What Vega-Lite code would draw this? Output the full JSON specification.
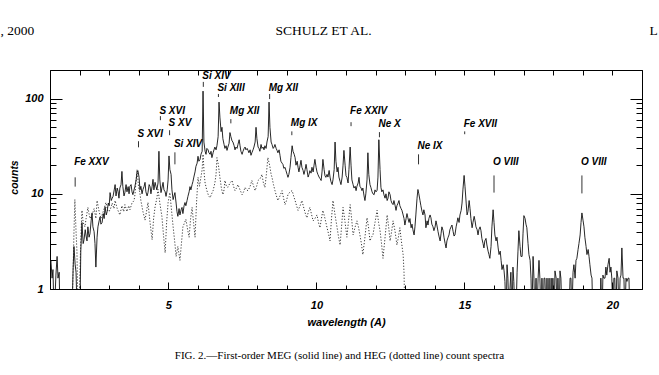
{
 "$schema": "https://vega.github.io/schema/vega-lite/v6.json",
 "width": 592,
 "height": 219,
 "autosize": {"type": "none"},
 "padding": {"left": 50, "top": 70, "right": 17, "bottom": 86},
 "background": "white",
 "config": {
  "view": {"stroke": "#000", "strokeWidth": 1},
  "axis": {"grid": false, "domain": false, "tickColor": "#000", "tickWidth": 1, "labelColor": "#000", "titleColor": "#000",
   "labelFont": "Liberation Sans", "labelFontStyle": "italic", "labelFontWeight": "bold", "labelFontSize": 11,
   "titleFont": "Liberation Sans", "titleFontStyle": "italic", "titleFontWeight": "bold", "titleFontSize": 11}
 },
 "datasets": {
  "meg": [
   {"wl":1.00,"counts":1.8},{"wl":1.03,"counts":2.0},{"wl":1.07,"counts":1.3},{"wl":1.10,"counts":1.6},{"wl":1.14,"counts":0.5},{"wl":1.20,"counts":1.4},{"wl":1.24,"counts":2.2},{"wl":1.27,"counts":1.3},{"wl":1.31,"counts":1.5},{"wl":1.34,"counts":0.5},
   {"wl":1.74,"counts":0.5},{"wl":1.78,"counts":1.6},{"wl":1.81,"counts":2.8},{"wl":1.85,"counts":1.8},{"wl":1.88,"counts":1.5},{"wl":1.92,"counts":0.5},{"wl":2.01,"counts":0.5},{"wl":2.04,"counts":2.5},{"wl":2.08,"counts":5.0},{"wl":2.12,"counts":3.0},{"wl":2.15,"counts":3.3},{"wl":2.19,"counts":4.2},{"wl":2.22,"counts":3.6},{"wl":2.25,"counts":3.2},{"wl":2.28,"counts":4.5},{"wl":2.32,"counts":3.5},{"wl":2.35,"counts":3.8},{"wl":2.39,"counts":5.2},{"wl":2.42,"counts":6.3},{"wl":2.45,"counts":4.5},{"wl":2.49,"counts":4.0},{"wl":2.52,"counts":3.0},{"wl":2.55,"counts":1.7},{"wl":2.59,"counts":3.5},{"wl":2.62,"counts":4.5},{"wl":2.66,"counts":5.2},{"wl":2.69,"counts":5.7},{"wl":2.72,"counts":4.8},{"wl":2.76,"counts":5.0},{"wl":2.80,"counts":6.2},{"wl":2.83,"counts":5.5},{"wl":2.86,"counts":7.3},{"wl":2.90,"counts":6.0},{"wl":2.93,"counts":6.5},{"wl":2.97,"counts":8.0},{"wl":3.00,"counts":7.5},{"wl":3.03,"counts":10.3},{"wl":3.07,"counts":8.5},{"wl":3.10,"counts":9.0},{"wl":3.13,"counts":9.4},{"wl":3.17,"counts":11.0},{"wl":3.20,"counts":12.5},{"wl":3.23,"counts":9.5},{"wl":3.27,"counts":11.5},{"wl":3.30,"counts":10.6},{"wl":3.33,"counts":9.0},{"wl":3.36,"counts":11.5},{"wl":3.40,"counts":12.5},{"wl":3.43,"counts":17.2},{"wl":3.46,"counts":12.0},{"wl":3.50,"counts":9.5},{"wl":3.53,"counts":10.3},{"wl":3.57,"counts":12.5},{"wl":3.60,"counts":10.5},{"wl":3.64,"counts":11.9},{"wl":3.67,"counts":10.0},{"wl":3.70,"counts":12.0},{"wl":3.74,"counts":12.5},{"wl":3.77,"counts":10.5},{"wl":3.80,"counts":9.8},{"wl":3.84,"counts":11.0},{"wl":3.87,"counts":12.0},{"wl":3.91,"counts":14.0},{"wl":3.94,"counts":16.8},{"wl":3.97,"counts":17.5},{"wl":4.01,"counts":14.9},{"wl":4.04,"counts":11.0},{"wl":4.07,"counts":12.0},{"wl":4.11,"counts":10.0},{"wl":4.14,"counts":11.1},{"wl":4.18,"counts":12.0},{"wl":4.21,"counts":13.2},{"wl":4.24,"counts":10.5},{"wl":4.28,"counts":9.5},{"wl":4.31,"counts":10.3},{"wl":4.35,"counts":12.5},{"wl":4.38,"counts":11.9},{"wl":4.41,"counts":10.0},{"wl":4.45,"counts":12.0},{"wl":4.48,"counts":14.2},{"wl":4.51,"counts":11.0},{"wl":4.55,"counts":13.2},{"wl":4.58,"counts":12.0},{"wl":4.61,"counts":11.0},{"wl":4.65,"counts":13.0},{"wl":4.68,"counts":28.0},{"wl":4.71,"counts":14.0},{"wl":4.75,"counts":10.3},{"wl":4.78,"counts":11.5},{"wl":4.82,"counts":13.2},{"wl":4.85,"counts":11.0},{"wl":4.89,"counts":10.5},{"wl":4.92,"counts":9.4},{"wl":4.96,"counts":11.0},{"wl":4.99,"counts":14.0},{"wl":5.02,"counts":25.0},{"wl":5.05,"counts":18.0},{"wl":5.09,"counts":16.0},{"wl":5.12,"counts":11.0},{"wl":5.16,"counts":8.7},{"wl":5.19,"counts":9.5},{"wl":5.22,"counts":10.3},{"wl":5.26,"counts":8.0},{"wl":5.29,"counts":6.5},{"wl":5.32,"counts":5.8},{"wl":5.36,"counts":7.0},{"wl":5.39,"counts":6.0},{"wl":5.43,"counts":6.8},{"wl":5.46,"counts":7.2},{"wl":5.49,"counts":6.2},{"wl":5.53,"counts":7.5},{"wl":5.56,"counts":8.1},{"wl":5.59,"counts":7.5},{"wl":5.63,"counts":8.5},{"wl":5.66,"counts":9.4},{"wl":5.70,"counts":10.5},{"wl":5.73,"counts":11.9},{"wl":5.76,"counts":11.0},{"wl":5.80,"counts":12.5},{"wl":5.83,"counts":13.5},{"wl":5.86,"counts":15.0},{"wl":5.90,"counts":17.0},{"wl":5.93,"counts":19.4},{"wl":5.97,"counts":21.0},{"wl":6.00,"counts":24.8},{"wl":6.03,"counts":22.0},{"wl":6.07,"counts":23.0},{"wl":6.10,"counts":26.0},{"wl":6.14,"counts":28.0},{"wl":6.17,"counts":120},{"wl":6.20,"counts":35.0},{"wl":6.24,"counts":28.0},{"wl":6.27,"counts":26.0},{"wl":6.30,"counts":30.0},{"wl":6.34,"counts":29.0},{"wl":6.37,"counts":27.0},{"wl":6.41,"counts":26.0},{"wl":6.44,"counts":28.0},{"wl":6.47,"counts":24.0},{"wl":6.51,"counts":27.0},{"wl":6.54,"counts":29.0},{"wl":6.57,"counts":31.0},{"wl":6.61,"counts":29.0},{"wl":6.64,"counts":32.0},{"wl":6.68,"counts":40.0},{"wl":6.71,"counts":92.0},{"wl":6.74,"counts":64.0},{"wl":6.78,"counts":45.0},{"wl":6.81,"counts":50.0},{"wl":6.84,"counts":38.0},{"wl":6.88,"counts":33.0},{"wl":6.91,"counts":30.0},{"wl":6.95,"counts":32.0},{"wl":6.98,"counts":28.6},{"wl":7.01,"counts":31.0},{"wl":7.05,"counts":34.0},{"wl":7.08,"counts":44.0},{"wl":7.11,"counts":40.0},{"wl":7.15,"counts":36.0},{"wl":7.18,"counts":35.0},{"wl":7.22,"counts":32.0},{"wl":7.25,"counts":29.0},{"wl":7.28,"counts":31.0},{"wl":7.32,"counts":30.0},{"wl":7.35,"counts":33.0},{"wl":7.39,"counts":37.0},{"wl":7.42,"counts":32.0},{"wl":7.45,"counts":28.0},{"wl":7.49,"counts":26.0},{"wl":7.52,"counts":28.0},{"wl":7.56,"counts":30.0},{"wl":7.59,"counts":31.0},{"wl":7.62,"counts":29.0},{"wl":7.66,"counts":30.0},{"wl":7.69,"counts":28.6},{"wl":7.72,"counts":27.0},{"wl":7.76,"counts":29.0},{"wl":7.79,"counts":25.4},{"wl":7.82,"counts":27.0},{"wl":7.86,"counts":29.0},{"wl":7.89,"counts":31.0},{"wl":7.93,"counts":35.0},{"wl":7.96,"counts":50.0},{"wl":7.99,"counts":38.0},{"wl":8.03,"counts":31.0},{"wl":8.06,"counts":30.0},{"wl":8.09,"counts":28.0},{"wl":8.13,"counts":33.0},{"wl":8.16,"counts":30.0},{"wl":8.20,"counts":31.0},{"wl":8.23,"counts":29.0},{"wl":8.26,"counts":32.0},{"wl":8.30,"counts":30.0},{"wl":8.33,"counts":35.0},{"wl":8.37,"counts":40.0},{"wl":8.40,"counts":92.0},{"wl":8.43,"counts":50.0},{"wl":8.47,"counts":35.0},{"wl":8.50,"counts":33.0},{"wl":8.54,"counts":30.0},{"wl":8.57,"counts":31.0},{"wl":8.60,"counts":33.0},{"wl":8.64,"counts":30.0},{"wl":8.67,"counts":28.6},{"wl":8.70,"counts":27.0},{"wl":8.74,"counts":29.0},{"wl":8.77,"counts":25.4},{"wl":8.80,"counts":22.0},{"wl":8.84,"counts":21.0},{"wl":8.87,"counts":20.4},{"wl":8.90,"counts":18.5},{"wl":8.94,"counts":19.0},{"wl":8.97,"counts":17.6},{"wl":9.01,"counts":16.0},{"wl":9.04,"counts":14.9},{"wl":9.07,"counts":16.0},{"wl":9.11,"counts":19.0},{"wl":9.14,"counts":24.0},{"wl":9.18,"counts":32.0},{"wl":9.21,"counts":28.0},{"wl":9.25,"counts":26.0},{"wl":9.28,"counts":24.0},{"wl":9.31,"counts":20.0},{"wl":9.35,"counts":22.0},{"wl":9.38,"counts":19.0},{"wl":9.41,"counts":17.0},{"wl":9.45,"counts":20.0},{"wl":9.48,"counts":22.5},{"wl":9.51,"counts":19.0},{"wl":9.55,"counts":17.6},{"wl":9.58,"counts":16.0},{"wl":9.62,"counts":18.0},{"wl":9.65,"counts":20.4},{"wl":9.68,"counts":18.0},{"wl":9.72,"counts":15.0},{"wl":9.75,"counts":16.0},{"wl":9.78,"counts":17.5},{"wl":9.82,"counts":16.5},{"wl":9.85,"counts":19.0},{"wl":9.89,"counts":17.0},{"wl":9.92,"counts":20.0},{"wl":9.95,"counts":23.0},{"wl":9.99,"counts":19.0},{"wl":10.02,"counts":17.0},{"wl":10.05,"counts":16.0},{"wl":10.09,"counts":15.0},{"wl":10.12,"counts":14.5},{"wl":10.16,"counts":13.8},{"wl":10.19,"counts":17.0},{"wl":10.22,"counts":23.0},{"wl":10.26,"counts":18.0},{"wl":10.29,"counts":15.5},{"wl":10.32,"counts":14.9},{"wl":10.36,"counts":16.0},{"wl":10.39,"counts":15.0},{"wl":10.43,"counts":17.6},{"wl":10.46,"counts":15.0},{"wl":10.49,"counts":13.5},{"wl":10.53,"counts":12.5},{"wl":10.56,"counts":14.0},{"wl":10.60,"counts":18.0},{"wl":10.63,"counts":35.0},{"wl":10.66,"counts":22.0},{"wl":10.70,"counts":17.0},{"wl":10.73,"counts":19.0},{"wl":10.76,"counts":15.0},{"wl":10.80,"counts":13.5},{"wl":10.83,"counts":12.5},{"wl":10.87,"counts":15.0},{"wl":10.90,"counts":20.0},{"wl":10.93,"counts":28.6},{"wl":10.97,"counts":20.0},{"wl":11.00,"counts":15.5},{"wl":11.03,"counts":14.9},{"wl":11.07,"counts":13.0},{"wl":11.10,"counts":18.0},{"wl":11.14,"counts":31.0},{"wl":11.17,"counts":20.0},{"wl":11.20,"counts":14.0},{"wl":11.24,"counts":12.5},{"wl":11.27,"counts":11.5},{"wl":11.31,"counts":12.0},{"wl":11.34,"counts":10.8},{"wl":11.37,"counts":12.0},{"wl":11.41,"counts":13.0},{"wl":11.44,"counts":14.9},{"wl":11.47,"counts":12.0},{"wl":11.51,"counts":11.5},{"wl":11.54,"counts":10.8},{"wl":11.57,"counts":11.5},{"wl":11.61,"counts":9.5},{"wl":11.64,"counts":8.5},{"wl":11.67,"counts":10.0},{"wl":11.71,"counts":14.0},{"wl":11.74,"counts":27.0},{"wl":11.77,"counts":16.0},{"wl":11.81,"counts":12.5},{"wl":11.84,"counts":11.7},{"wl":11.88,"counts":10.5},{"wl":11.91,"counts":10.0},{"wl":11.95,"counts":9.8},{"wl":11.98,"counts":11.0},{"wl":12.01,"counts":10.5},{"wl":12.05,"counts":10.8},{"wl":12.08,"counts":15.0},{"wl":12.11,"counts":37.0},{"wl":12.15,"counts":18.0},{"wl":12.18,"counts":11.7},{"wl":12.21,"counts":10.5},{"wl":12.25,"counts":11.0},{"wl":12.28,"counts":9.8},{"wl":12.32,"counts":9.0},{"wl":12.35,"counts":10.0},{"wl":12.39,"counts":8.5},{"wl":12.42,"counts":9.0},{"wl":12.45,"counts":10.5},{"wl":12.49,"counts":9.8},{"wl":12.52,"counts":8.5},{"wl":12.55,"counts":8.0},{"wl":12.59,"counts":7.7},{"wl":12.62,"counts":8.5},{"wl":12.66,"counts":7.5},{"wl":12.69,"counts":6.7},{"wl":12.72,"counts":7.5},{"wl":12.76,"counts":8.0},{"wl":12.79,"counts":8.5},{"wl":12.82,"counts":7.5},{"wl":12.86,"counts":7.0},{"wl":12.89,"counts":6.7},{"wl":12.93,"counts":6.0},{"wl":12.96,"counts":5.5},{"wl":12.99,"counts":4.7},{"wl":13.03,"counts":5.5},{"wl":13.06,"counts":6.2},{"wl":13.09,"counts":5.6},{"wl":13.13,"counts":5.0},{"wl":13.16,"counts":5.5},{"wl":13.20,"counts":4.4},{"wl":13.23,"counts":4.8},{"wl":13.26,"counts":4.2},{"wl":13.30,"counts":3.7},{"wl":13.33,"counts":4.5},{"wl":13.36,"counts":6.0},{"wl":13.40,"counts":9.0},{"wl":13.43,"counts":11.1},{"wl":13.46,"counts":10.0},{"wl":13.50,"counts":8.5},{"wl":13.53,"counts":7.5},{"wl":13.57,"counts":6.5},{"wl":13.60,"counts":6.0},{"wl":13.63,"counts":6.8},{"wl":13.67,"counts":6.0},{"wl":13.70,"counts":4.4},{"wl":13.74,"counts":5.2},{"wl":13.77,"counts":4.7},{"wl":13.80,"counts":5.5},{"wl":13.84,"counts":6.0},{"wl":13.87,"counts":5.6},{"wl":13.90,"counts":4.8},{"wl":13.94,"counts":4.5},{"wl":13.97,"counts":4.1},{"wl":14.01,"counts":4.5},{"wl":14.04,"counts":5.2},{"wl":14.07,"counts":4.7},{"wl":14.11,"counts":4.0},{"wl":14.14,"counts":3.6},{"wl":14.18,"counts":3.2},{"wl":14.21,"counts":3.8},{"wl":14.24,"counts":4.5},{"wl":14.28,"counts":4.1},{"wl":14.31,"counts":3.5},{"wl":14.35,"counts":3.0},{"wl":14.38,"counts":2.7},{"wl":14.41,"counts":3.2},{"wl":14.45,"counts":3.5},{"wl":14.48,"counts":3.7},{"wl":14.51,"counts":4.2},{"wl":14.55,"counts":4.5},{"wl":14.58,"counts":4.7},{"wl":14.62,"counts":4.0},{"wl":14.65,"counts":3.6},{"wl":14.68,"counts":3.7},{"wl":14.72,"counts":4.5},{"wl":14.75,"counts":5.0},{"wl":14.78,"counts":5.6},{"wl":14.82,"counts":5.0},{"wl":14.85,"counts":6.0},{"wl":14.89,"counts":6.7},{"wl":14.92,"counts":8.0},{"wl":14.95,"counts":11.0},{"wl":14.99,"counts":15.6},{"wl":15.02,"counts":12.0},{"wl":15.06,"counts":8.0},{"wl":15.09,"counts":6.0},{"wl":15.12,"counts":6.5},{"wl":15.16,"counts":8.5},{"wl":15.19,"counts":7.0},{"wl":15.22,"counts":5.5},{"wl":15.26,"counts":4.4},{"wl":15.29,"counts":5.0},{"wl":15.33,"counts":5.8},{"wl":15.36,"counts":5.2},{"wl":15.39,"counts":4.5},{"wl":15.43,"counts":4.2},{"wl":15.46,"counts":3.7},{"wl":15.49,"counts":4.2},{"wl":15.53,"counts":4.5},{"wl":15.56,"counts":4.1},{"wl":15.59,"counts":3.4},{"wl":15.63,"counts":3.0},{"wl":15.66,"counts":2.7},{"wl":15.69,"counts":3.2},{"wl":15.73,"counts":3.4},{"wl":15.76,"counts":2.9},{"wl":15.80,"counts":2.5},{"wl":15.83,"counts":2.3},{"wl":15.86,"counts":2.1},{"wl":15.90,"counts":2.8},{"wl":15.93,"counts":4.5},{"wl":15.97,"counts":6.8},{"wl":16.00,"counts":5.0},{"wl":16.03,"counts":3.7},{"wl":16.07,"counts":3.2},{"wl":16.10,"counts":3.5},{"wl":16.14,"counts":2.7},{"wl":16.17,"counts":2.3},{"wl":16.21,"counts":2.5},{"wl":16.24,"counts":2.0},{"wl":16.27,"counts":1.6},{"wl":16.31,"counts":1.8},{"wl":16.34,"counts":1.55},{"wl":16.37,"counts":1.2},{"wl":16.41,"counts":0.5},{"wl":16.44,"counts":1.8},{"wl":16.47,"counts":1.3},{"wl":16.51,"counts":0.5},{"wl":16.54,"counts":1.0},{"wl":16.57,"counts":1.5},{"wl":16.61,"counts":0.5},{"wl":16.64,"counts":1.7},{"wl":16.67,"counts":1.2},{"wl":16.71,"counts":0.5},{"wl":16.74,"counts":0.5},{"wl":16.78,"counts":1.5},{"wl":16.81,"counts":2.5},{"wl":16.84,"counts":4.1},{"wl":16.88,"counts":2.8},{"wl":16.91,"counts":2.2},{"wl":16.95,"counts":2.2},{"wl":16.98,"counts":3.8},{"wl":17.01,"counts":5.9},{"wl":17.05,"counts":5.5},{"wl":17.08,"counts":4.8},{"wl":17.11,"counts":4.4},{"wl":17.15,"counts":3.0},{"wl":17.18,"counts":2.3},{"wl":17.22,"counts":2.0},{"wl":17.25,"counts":1.3},{"wl":17.28,"counts":0.5},{"wl":17.32,"counts":2.2},{"wl":17.35,"counts":1.3},{"wl":17.38,"counts":0.5},{"wl":17.42,"counts":1.3},{"wl":17.45,"counts":0.5},{"wl":17.49,"counts":1.3},{"wl":17.52,"counts":2.0},{"wl":17.55,"counts":1.3},{"wl":17.59,"counts":0.5},{"wl":17.62,"counts":1.3},{"wl":17.66,"counts":0.5},{"wl":17.69,"counts":1.3},{"wl":17.72,"counts":1.3},{"wl":17.76,"counts":0.5},{"wl":17.79,"counts":1.3},{"wl":17.82,"counts":0.5},{"wl":17.86,"counts":1.3},{"wl":17.89,"counts":0.5},{"wl":17.93,"counts":1.3},{"wl":17.96,"counts":0.5},{"wl":17.99,"counts":1.3},{"wl":18.03,"counts":0.5},{"wl":18.06,"counts":1.55},{"wl":18.10,"counts":1.3},{"wl":18.13,"counts":0.5},{"wl":18.16,"counts":1.3},{"wl":18.20,"counts":0.5},{"wl":18.23,"counts":1.55},{"wl":18.26,"counts":1.3},{"wl":18.30,"counts":0.5},
   {"wl":18.53,"counts":0.5},{"wl":18.57,"counts":1.3},{"wl":18.60,"counts":1.3},{"wl":18.63,"counts":0.5},{"wl":18.67,"counts":1.5},{"wl":18.70,"counts":1.8},{"wl":18.74,"counts":1.3},{"wl":18.77,"counts":2.0},{"wl":18.80,"counts":2.1},{"wl":18.84,"counts":2.6},{"wl":18.87,"counts":3.0},{"wl":18.91,"counts":3.7},{"wl":18.94,"counts":5.0},{"wl":18.97,"counts":6.3},{"wl":19.01,"counts":5.2},{"wl":19.04,"counts":4.5},{"wl":19.07,"counts":3.5},{"wl":19.11,"counts":2.8},{"wl":19.14,"counts":2.3},{"wl":19.18,"counts":2.6},{"wl":19.21,"counts":2.2},{"wl":19.24,"counts":1.8},{"wl":19.28,"counts":1.4},{"wl":19.31,"counts":1.3},{"wl":19.34,"counts":0.5},
   {"wl":19.58,"counts":0.5},{"wl":19.61,"counts":1.3},{"wl":19.65,"counts":0.5},{"wl":19.68,"counts":1.4},{"wl":19.71,"counts":1.3},{"wl":19.75,"counts":1.3},{"wl":19.78,"counts":1.7},{"wl":19.81,"counts":1.4},{"wl":19.85,"counts":1.8},{"wl":19.89,"counts":2.1},{"wl":19.92,"counts":1.5},{"wl":19.95,"counts":1.7},{"wl":19.98,"counts":1.3},{"wl":20.02,"counts":0.5},{"wl":20.05,"counts":1.3},{"wl":20.08,"counts":1.3},{"wl":20.12,"counts":0.5},{"wl":20.15,"counts":1.55},{"wl":20.19,"counts":1.3},{"wl":20.22,"counts":0.5},{"wl":20.26,"counts":1.3},{"wl":20.29,"counts":1.4},{"wl":20.32,"counts":2.7},{"wl":20.36,"counts":1.3},{"wl":20.39,"counts":1.3},{"wl":20.42,"counts":0.5},{"wl":20.46,"counts":1.3},{"wl":20.49,"counts":1.2},{"wl":20.53,"counts":1.3},{"wl":20.56,"counts":1.3},{"wl":20.59,"counts":0.5}
  ],
  "heg": [
   {"wl":1.74,"counts":0.5},{"wl":1.78,"counts":1.5},{"wl":1.81,"counts":4.0},{"wl":1.84,"counts":8.7},{"wl":1.88,"counts":4.0},{"wl":1.91,"counts":2.5},{"wl":1.95,"counts":0.5},{"wl":1.98,"counts":0.5},{"wl":2.01,"counts":1.5},{"wl":2.05,"counts":4.0},{"wl":2.08,"counts":6.7},{"wl":2.12,"counts":5.0},{"wl":2.18,"counts":4.5},{"wl":2.22,"counts":5.5},{"wl":2.28,"counts":7.2},{"wl":2.35,"counts":5.5},{"wl":2.42,"counts":6.0},{"wl":2.49,"counts":7.0},{"wl":2.55,"counts":5.5},{"wl":2.59,"counts":8.5},{"wl":2.66,"counts":6.5},{"wl":2.72,"counts":5.5},{"wl":2.76,"counts":6.0},{"wl":2.83,"counts":7.0},{"wl":2.89,"counts":8.1},{"wl":2.96,"counts":6.5},{"wl":3.03,"counts":6.7},{"wl":3.10,"counts":8.0},{"wl":3.16,"counts":7.0},{"wl":3.20,"counts":8.5},{"wl":3.27,"counts":7.0},{"wl":3.36,"counts":6.0},{"wl":3.43,"counts":7.5},{"wl":3.49,"counts":6.5},{"wl":3.53,"counts":7.7},{"wl":3.60,"counts":6.5},{"wl":3.66,"counts":7.5},{"wl":3.70,"counts":6.8},{"wl":3.77,"counts":8.0},{"wl":3.84,"counts":8.5},{"wl":3.87,"counts":9.8},{"wl":3.94,"counts":18.0},{"wl":3.99,"counts":12.0},{"wl":4.04,"counts":10.0},{"wl":4.07,"counts":8.5},{"wl":4.14,"counts":6.5},{"wl":4.21,"counts":5.3},{"wl":4.26,"counts":6.5},{"wl":4.31,"counts":8.1},{"wl":4.38,"counts":5.0},{"wl":4.45,"counts":3.3},{"wl":4.50,"counts":5.5},{"wl":4.55,"counts":7.3},{"wl":4.61,"counts":9.0},{"wl":4.65,"counts":11.1},{"wl":4.71,"counts":8.0},{"wl":4.78,"counts":5.8},{"wl":4.84,"counts":3.5},{"wl":4.89,"counts":2.4},{"wl":4.94,"counts":5.0},{"wl":4.99,"counts":8.1},{"wl":5.05,"counts":10.3},{"wl":5.10,"counts":7.0},{"wl":5.16,"counts":4.5},{"wl":5.22,"counts":3.0},{"wl":5.26,"counts":2.2},{"wl":5.32,"counts":2.8},{"wl":5.39,"counts":2.0},{"wl":5.44,"counts":3.0},{"wl":5.49,"counts":4.5},{"wl":5.55,"counts":5.0},{"wl":5.59,"counts":5.4},{"wl":5.65,"counts":4.2},{"wl":5.70,"counts":3.5},{"wl":5.75,"counts":5.5},{"wl":5.80,"counts":7.2},{"wl":5.85,"counts":5.0},{"wl":5.90,"counts":3.5},{"wl":5.95,"counts":8.0},{"wl":6.00,"counts":14.9},{"wl":6.05,"counts":12.0},{"wl":6.10,"counts":15.0},{"wl":6.14,"counts":18.0},{"wl":6.17,"counts":26.0},{"wl":6.21,"counts":16.0},{"wl":6.24,"counts":13.0},{"wl":6.30,"counts":10.8},{"wl":6.36,"counts":9.5},{"wl":6.41,"counts":9.1},{"wl":6.46,"counts":10.0},{"wl":6.51,"counts":10.8},{"wl":6.57,"counts":13.0},{"wl":6.61,"counts":16.0},{"wl":6.64,"counts":24.0},{"wl":6.69,"counts":20.0},{"wl":6.74,"counts":14.9},{"wl":6.79,"counts":11.5},{"wl":6.84,"counts":9.8},{"wl":6.88,"counts":11.0},{"wl":6.91,"counts":13.8},{"wl":6.96,"counts":12.0},{"wl":7.01,"counts":11.7},{"wl":7.08,"counts":13.0},{"wl":7.15,"counts":13.8},{"wl":7.20,"counts":12.0},{"wl":7.25,"counts":10.8},{"wl":7.30,"counts":11.5},{"wl":7.35,"counts":12.5},{"wl":7.42,"counts":11.0},{"wl":7.49,"counts":9.8},{"wl":7.54,"counts":10.5},{"wl":7.59,"counts":11.7},{"wl":7.64,"counts":11.0},{"wl":7.69,"counts":10.8},{"wl":7.76,"counts":12.0},{"wl":7.82,"counts":13.8},{"wl":7.88,"counts":12.0},{"wl":7.93,"counts":10.8},{"wl":7.98,"counts":12.0},{"wl":8.03,"counts":13.8},{"wl":8.10,"counts":14.5},{"wl":8.16,"counts":16.0},{"wl":8.21,"counts":13.0},{"wl":8.26,"counts":11.7},{"wl":8.31,"counts":16.0},{"wl":8.36,"counts":24.0},{"wl":8.42,"counts":20.0},{"wl":8.47,"counts":16.0},{"wl":8.50,"counts":14.9},{"wl":8.55,"counts":12.5},{"wl":8.60,"counts":10.8},{"wl":8.65,"counts":9.5},{"wl":8.70,"counts":8.5},{"wl":8.77,"counts":9.5},{"wl":8.84,"counts":10.8},{"wl":8.89,"counts":9.0},{"wl":8.94,"counts":7.7},{"wl":8.99,"counts":8.5},{"wl":9.04,"counts":9.8},{"wl":9.11,"counts":10.5},{"wl":9.18,"counts":10.8},{"wl":9.23,"counts":9.5},{"wl":9.28,"counts":8.5},{"wl":9.33,"counts":7.5},{"wl":9.38,"counts":6.7},{"wl":9.45,"counts":7.5},{"wl":9.51,"counts":8.5},{"wl":9.58,"counts":7.0},{"wl":9.64,"counts":6.0},{"wl":9.68,"counts":5.6},{"wl":9.73,"counts":6.5},{"wl":9.78,"counts":7.2},{"wl":9.84,"counts":6.0},{"wl":9.89,"counts":5.2},{"wl":9.95,"counts":5.5},{"wl":10.02,"counts":6.0},{"wl":10.07,"counts":5.0},{"wl":10.12,"counts":4.4},{"wl":10.17,"counts":5.5},{"wl":10.22,"counts":6.7},{"wl":10.29,"counts":5.5},{"wl":10.36,"counts":4.4},{"wl":10.41,"counts":3.8},{"wl":10.46,"counts":3.2},{"wl":10.51,"counts":5.5},{"wl":10.56,"counts":8.5},{"wl":10.63,"counts":6.0},{"wl":10.70,"counts":4.4},{"wl":10.75,"counts":3.5},{"wl":10.80,"counts":2.9},{"wl":10.85,"counts":4.5},{"wl":10.90,"counts":7.2},{"wl":10.97,"counts":5.0},{"wl":11.03,"counts":3.5},{"wl":11.08,"counts":5.0},{"wl":11.14,"counts":7.7},{"wl":11.19,"counts":5.5},{"wl":11.24,"counts":3.7},{"wl":11.31,"counts":4.5},{"wl":11.37,"counts":5.2},{"wl":11.42,"counts":4.5},{"wl":11.47,"counts":3.7},{"wl":11.52,"counts":3.0},{"wl":11.57,"counts":2.3},{"wl":11.64,"counts":3.5},{"wl":11.71,"counts":5.6},{"wl":11.76,"counts":4.5},{"wl":11.81,"counts":3.2},{"wl":11.86,"counts":3.5},{"wl":11.91,"counts":3.7},{"wl":11.98,"counts":5.0},{"wl":12.05,"counts":6.7},{"wl":12.10,"counts":5.0},{"wl":12.15,"counts":4.1},{"wl":12.20,"counts":3.0},{"wl":12.25,"counts":2.1},{"wl":12.32,"counts":3.5},{"wl":12.39,"counts":6.0},{"wl":12.44,"counts":4.5},{"wl":12.49,"counts":3.2},{"wl":12.54,"counts":4.0},{"wl":12.59,"counts":5.2},{"wl":12.66,"counts":4.0},{"wl":12.72,"counts":2.9},{"wl":12.77,"counts":3.5},{"wl":12.82,"counts":4.4},{"wl":12.87,"counts":3.2},{"wl":12.93,"counts":2.3},{"wl":12.96,"counts":1.5},{"wl":12.99,"counts":0.5}
  ],
  "lines": [
   {"ion":"Fe XXV","wl":1.85,"top":14.9,"bottom":11.9,"label_y":19.9},
   {"ion":"S XVI","wl":3.99,"top":35.7,"bottom":30.8,"label_y":39.3},
   {"ion":"S XVI","wl":4.73,"top":65.5,"bottom":59.4,"label_y":68.8},
   {"ion":"S XV","wl":5.04,"top":46.6,"bottom":41.3,"label_y":51.4},
   {"ion":"Si XIV","wl":5.22,"top":27.3,"bottom":20.4,"label_y":30.8},
   {"ion":"Si XIV","wl":6.18,"top":150,"bottom":133,"label_y":161},
   {"ion":"Si XIII","wl":6.69,"top":112,"bottom":104,"label_y":120},
   {"ion":"Mg XII","wl":7.11,"top":61,"bottom":55,"label_y":68.8},
   {"ion":"Mg XII","wl":8.42,"top":112,"bottom":99,"label_y":120},
   {"ion":"Mg IX","wl":9.17,"top":45.3,"bottom":41.3,"label_y":51},
   {"ion":"Fe XXIV","wl":11.17,"top":56.6,"bottom":51.4,"label_y":68.8},
   {"ion":"Ne X","wl":12.13,"top":44.5,"bottom":39.3,"label_y":50},
   {"ion":"Ne IX","wl":13.45,"top":26,"bottom":20.4,"label_y":29.4},
   {"ion":"Fe XVII","wl":15.01,"top":45.3,"bottom":42.3,"label_y":50.1},
   {"ion":"O VIII","wl":16.0,"top":15.6,"bottom":10.3,"label_y":19.9},
   {"ion":"O VIII","wl":18.97,"top":15.6,"bottom":10.1,"label_y":19.9}
  ]
 },
 "layer": [
  {
   "data": {"name": "heg"},
   "mark": {"type": "line", "clip": true, "stroke": "#3a3a3a", "strokeWidth": 1, "strokeDash": [1.2, 1.8]},
   "encoding": {
    "x": {"field": "wl", "type": "quantitative", "scale": {"domain": [1, 21], "nice": false, "zero": false},
     "axis": {"orient": "bottom", "values": [5, 10, 15, 20], "tickSize": -7, "labelPadding": 17,
      "title": "wavelength (A)", "titleX": 296, "titleY": 33, "titleAlign": "center", "titleBaseline": "middle"}},
    "y": {"field": "counts", "type": "quantitative", "scale": {"type": "log", "domain": [1, 200], "nice": false},
     "axis": {"orient": "left", "values": [1, 10, 100], "format": "d", "tickSize": -12, "labelPadding": 19,
      "title": "counts", "titleX": -36, "titleY": 107, "titleAngle": -90, "titleAlign": "center", "titleBaseline": "middle", "titleFontSize": 10.5}}
   }
  },
  {
   "data": {"name": "meg"},
   "mark": {"type": "line", "clip": true, "stroke": "#111", "strokeWidth": 0.9},
   "encoding": {
    "x": {"field": "wl", "type": "quantitative",
     "axis": {"orient": "bottom", "values": [1,2,3,4,5,6,7,8,9,10,11,12,13,14,15,16,17,18,19,20,21], "tickSize": -4, "labels": false,
      "title": "FIG. 2.—First-order MEG (solid line) and HEG (dotted line) count spectra",
      "titleFont": "Liberation Serif", "titleFontStyle": "normal", "titleFontWeight": "normal", "titleFontSize": 11,
      "titleX": 289, "titleY": 66, "titleAlign": "center", "titleBaseline": "middle"}},
    "y": {"field": "counts", "type": "quantitative",
     "axis": {"orient": "left", "values": [2,3,4,5,6,7,8,9,20,30,40,50,60,70,80,90,200], "tickSize": -6, "labels": false, "title": null}}
   }
  },
  {
   "data": {"name": "lines"},
   "mark": {"type": "rule", "stroke": "#333", "strokeWidth": 1},
   "encoding": {
    "x": {"field": "wl", "type": "quantitative",
     "axis": {"orient": "top", "values": [1,2,3,4,5,6,7,8,9,10,11,12,13,14,15,16,17,18,19,20,21], "tickSize": -5, "labels": false,
      "title": "SCHULZ ET AL.", "titleFont": "Liberation Serif", "titleFontStyle": "normal", "titleFontWeight": "normal", "titleFontSize": 13.5,
      "titleX": 273, "titleY": -40, "titleAlign": "center", "titleBaseline": "middle"}},
    "y": {"field": "top", "type": "quantitative",
     "axis": {"orient": "right", "values": [1, 10, 100], "tickSize": -12, "labels": false,
      "title": "L", "titleFont": "Liberation Serif", "titleFontStyle": "normal", "titleFontWeight": "normal", "titleFontSize": 13.5,
      "titleAngle": 0, "titleX": 7, "titleY": -40, "titleAlign": "left", "titleBaseline": "middle"}},
    "y2": {"field": "bottom"}
   }
  },
  {
   "data": {"name": "lines"},
   "mark": {"type": "text", "align": "left", "baseline": "alphabetic", "font": "Liberation Sans", "fontStyle": "italic", "fontWeight": "bold", "fontSize": 10, "color": "#000", "dx": -1},
   "encoding": {
    "x": {"field": "wl", "type": "quantitative", "axis": null},
    "y": {"field": "label_y", "type": "quantitative",
     "axis": {"orient": "right", "values": [2,3,4,5,6,7,8,9,20,30,40,50,60,70,80,90,200], "tickSize": -6, "labels": false,
      "title": ", 2000", "titleFont": "Liberation Serif", "titleFontStyle": "normal", "titleFontWeight": "normal", "titleFontSize": 13.5,
      "titleAngle": 0, "titleX": -642, "titleY": -40, "titleAlign": "left", "titleBaseline": "middle"}},
    "text": {"field": "ion"}
   }
  }
 ],
 "resolve": {"axis": {"x": "independent", "y": "independent"}}
}
